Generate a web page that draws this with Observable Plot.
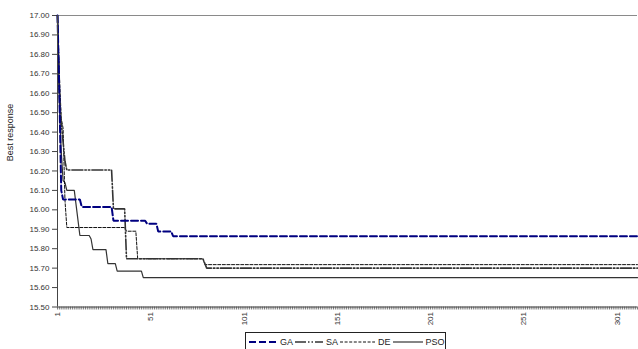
<!DOCTYPE html>
<html>
<head>
<meta charset="utf-8">
<script src="https://cdn.jsdelivr.net/npm/d3@7"></script>
<script src="https://cdn.jsdelivr.net/npm/@observablehq/plot@0.6"></script>
<style>
  html, body { margin: 0; padding: 0; background: #fff; }
  body { width: 638px; height: 349px; overflow: hidden; position: relative; font-family: "Liberation Sans", Arial, sans-serif; }
  #legend { position: absolute; left: 245px; top: 332px; width: 201px; height: 20px; border: 1px solid #222; box-sizing: border-box; display: flex; align-items: center; padding-left: 3px; font-size: 9px; color: #222; }
  #legend .item { display: flex; align-items: center; margin-right: 2px; }
  #legend svg { display: block; margin-right: 3px; }
</style>
</head>
<body>
<div id="chart"></div>
<div id="legend"></div>
<script>
// ---- data: change points of each best-response curve ----
const gaIter  = [1, 2, 3, 4, 13, 14, 30, 31, 48, 49, 54, 55, 62, 63, 312];
const gaVal   = [17.0, 16.60, 16.10, 16.053, 16.053, 16.015, 16.015, 15.944, 15.944, 15.929, 15.929, 15.889, 15.889, 15.864, 15.864];

const saIter  = [1, 2, 3, 4, 5, 6, 30, 31, 37, 38, 79, 81, 312];
const saVal   = [17.0, 16.60, 16.45, 16.35, 16.25, 16.205, 16.205, 16.005, 16.005, 15.748, 15.748, 15.700, 15.700];

const deIter  = [1, 2, 3, 4, 5, 6, 37, 38, 43, 44, 79, 80, 312];
const deVal   = [17.0, 16.70, 16.47, 16.42, 16.05, 15.909, 15.909, 15.890, 15.890, 15.748, 15.748, 15.718, 15.718];

const psoIter = [1, 2, 3, 4, 5, 6, 10, 13, 18, 19, 20, 27, 28, 32, 33, 46, 47, 312];
const psoVal  = [17.0, 16.55, 16.30, 16.15, 16.14, 16.10, 16.10, 15.868, 15.868, 15.850, 15.795, 15.795, 15.723, 15.723, 15.685, 15.685, 15.651, 15.651];

const yTickValues = [15.5, 15.6, 15.7, 15.8, 15.9, 16.0, 16.1, 16.2, 16.3, 16.4, 16.5, 16.6, 16.7, 16.8, 16.9, 17.0];
const xTickLabels = [1, 51, 101, 151, 201, 251, 301];
const xDomain = [1, 312];
const yDomain = [15.5, 17.0];
const seriesNames = ["GA", "SA", "DE", "PSO"];
const yTitle = "Best response";

const styles = {
  GA:  {stroke: "#000080", strokeWidth: 2,   strokeDasharray: "7,3"},
  SA:  {stroke: "#333333", strokeWidth: 1.6, strokeDasharray: "11,2,1.5,2,1.5,2"},
  DE:  {stroke: "#111111", strokeWidth: 1,   strokeDasharray: "3,1.6"},
  PSO: {stroke: "#333333", strokeWidth: 1.2, strokeDasharray: null}
};

const toRows = (it, v) => it.map((x, k) => ({i: x, v: v[k]}));
const rows = {
  GA: toRows(gaIter, gaVal),
  SA: toRows(saIter, saVal),
  DE: toRows(deIter, deVal),
  PSO: toRows(psoIter, psoVal)
};
const minorTicks = d3.range(xDomain[0], xDomain[1] + 1);

const lineMark = (name) => Plot.line(rows[name], {x: "i", y: "v", ...styles[name], strokeLinejoin: "miter"});

const chart = Plot.plot({
  width: 638,
  height: 330,
  marginLeft: 57,
  marginRight: 1,
  marginTop: 15,
  marginBottom: 23.5,
  style: {fontFamily: "'Liberation Sans', Arial, sans-serif", fontSize: "8px", color: "#333", background: "#fff"},
  x: {domain: xDomain},
  y: {domain: yDomain},
  marks: [
    Plot.ruleY([yDomain[1]], {stroke: "#8a8a8a", strokeWidth: 1}),
    Plot.axisY({ticks: yTickValues, tickFormat: d => d.toFixed(2), tickSize: 5, tickPadding: 3, label: null, stroke: "#444", fill: "#333"}),
    Plot.axisX({ticks: minorTicks, tickFormat: () => "", tickSize: 3, label: null, stroke: "#444", strokeWidth: 0.7}),
    Plot.text(xTickLabels, {x: d => d, y: yDomain[0], text: d => String(d), rotate: -90, textAnchor: "end", lineAnchor: "middle", dy: 5, fill: "#333"}),
    Plot.text([yTitle], {frameAnchor: "left", rotate: -90, dx: -47, fontSize: 9, fill: "#222"}),
    lineMark("PSO"),
    lineMark("DE"),
    lineMark("SA"),
    lineMark("GA"),
    Plot.ruleX([xDomain[0]], {stroke: "#444", strokeWidth: 1}),
    Plot.ruleY([yDomain[0]], {stroke: "#444", strokeWidth: 1})
  ]
});
document.getElementById("chart").appendChild(chart);

// ---- legend ----
const legend = document.getElementById("legend");
const sampleW = {GA: 28, SA: 28, DE: 35, PSO: 30};
seriesNames.forEach(name => {
  const s = styles[name];
  const item = document.createElement("div");
  item.className = "item";
  const w = sampleW[name];
  item.innerHTML = `<svg width="${w}" height="6"><line x1="0" y1="3" x2="${w}" y2="3" stroke="${s.stroke}" stroke-width="${s.strokeWidth}" ${s.strokeDasharray ? `stroke-dasharray="${s.strokeDasharray}"` : ""}/></svg><span>${name}</span>`;
  legend.appendChild(item);
});
</script>
</body>
</html>
